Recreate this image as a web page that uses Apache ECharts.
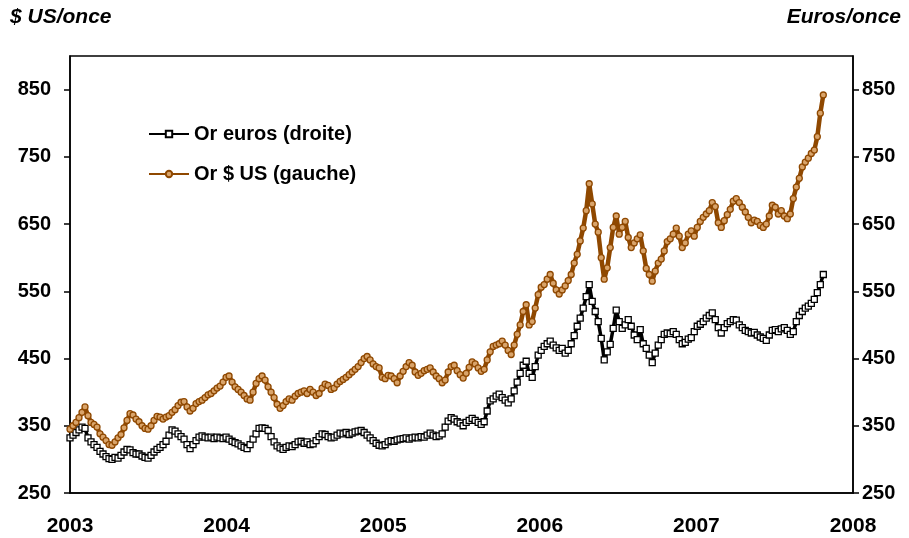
<!DOCTYPE html>
<html>
<head>
<meta charset="utf-8">
<script src="https://cdn.jsdelivr.net/npm/echarts@6/dist/echarts.min.js"></script>
<style>html,body{margin:0;padding:0;background:#fff}#c{width:909px;height:538px}</style>
</head>
<body>
<div id="c"></div>
<script>
// Weekly observations starting at the beginning of 2003
const startYear = 2003;
const weekStep = 7 / 365.25;
const yearLabels = ['2003', '2004', '2005', '2006', '2007', '2008'];
const yTicks = [250, 350, 450, 550, 650, 750, 850];

// Gold in US$ per ounce (left axis)
const goldUSD = [
345,350,355,362,370,378,365,355,352,348,338,333,328,322,321,326,332,337,347,358,
368,366,360,356,350,346,345,350,358,364,363,360,363,365,370,374,380,385,386,378,
372,376,383,386,388,392,396,398,402,406,409,415,422,424,415,408,404,400,395,390,
388,400,413,420,424,418,408,400,392,382,376,380,386,390,388,394,398,400,402,398,
404,400,395,398,406,412,410,404,406,412,416,419,422,426,430,434,438,444,450,453,
448,442,438,436,422,420,425,424,420,414,424,431,438,444,440,430,425,428,432,434,
436,430,424,420,414,418,430,438,440,432,426,421,428,437,445,442,436,431,434,448,
460,468,470,472,476,470,462,456,470,486,500,520,530,500,505,525,545,556,560,568,
575,562,552,546,552,558,566,575,592,605,625,644,670,710,680,650,638,600,568,585,
615,645,662,635,645,654,630,615,622,628,634,610,584,575,565,580,592,598,610,624,
628,635,644,632,615,622,635,640,632,645,654,660,665,670,682,676,652,645,655,664,
672,684,688,682,675,668,660,652,656,654,648,645,650,662,678,675,665,670,662,658,
665,688,705,718,735,742,748,755,760,780,815,842
];

// Gold in euros per ounce (right axis)
const goldEUR = [
332,336,340,344,348,346,332,326,322,318,312,308,304,301,300,303,302,306,311,315,
314,310,308,308,305,303,302,306,311,315,318,322,327,336,344,342,338,334,330,322,
316,322,328,333,335,333,332,333,331,333,332,331,333,330,327,325,323,320,318,316,
322,330,338,346,347,346,343,334,326,320,317,315,318,320,319,322,326,327,324,326,
322,323,328,334,338,337,334,332,333,336,339,338,340,337,339,341,342,343,340,336,
332,328,324,321,320,322,326,328,327,329,330,331,332,330,332,333,332,334,333,336,
339,336,334,335,338,348,357,362,360,356,354,350,355,358,361,358,355,352,356,372,
387,390,394,397,392,388,384,390,402,415,428,440,446,428,422,438,455,462,468,472,
476,470,466,462,465,458,462,472,484,498,510,525,542,560,535,520,505,480,448,460,
471,495,522,505,495,500,508,498,485,478,493,472,465,455,444,458,470,478,486,488,
487,490,486,478,472,474,479,481,490,498,501,505,510,514,518,508,496,488,496,502,
505,508,507,500,496,492,490,488,489,485,482,480,477,485,492,493,490,494,496,492,
486,490,505,514,520,525,528,532,538,548,560,575
];

const seriesNames = ['Or euros (droite)', 'Or $ US (gauche)'];
const unitLeft = '$ US/once';
const unitRight = 'Euros/once';

const toPairs = arr => arr.map((v, i) => [startYear + i * weekStep, v]);

const FONT = 'Liberation Sans, Arial, sans-serif';
const BROWN = '#8f4800';

function yAxisCfg(pos, margin) {
  return {
    type: 'value', position: pos, min: 250, max: 900, interval: 100,
    axisLine: { show: true, lineStyle: { color: '#000', width: 1.5 } },
    axisTick: { show: true, inside: false, length: 6, lineStyle: { color: '#000', width: 1.5 } },
    splitLine: { show: false },
    axisLabel: {
      showMaxLabel: false,
      margin: margin,
      color: '#000', fontFamily: FONT, fontWeight: 'bold', fontSize: 20,
      formatter: v => (yTicks.indexOf(v) >= 0 ? String(v) : '')
    }
  };
}

const chart = echarts.init(document.getElementById('c'), null, { renderer: 'canvas' });
chart.setOption({
  animation: false,
  backgroundColor: '#fff',
  grid: { left: 70, right: 56, top: 56, bottom: 45, show: true, borderColor: '#000', borderWidth: 1.5, backgroundColor: 'transparent' },
  legend: {
    orient: 'vertical', left: 143, top: 119, itemGap: 20,
    itemWidth: 40, itemHeight: 8,
    textStyle: { color: '#000', fontFamily: FONT, fontWeight: 'bold', fontSize: 20 },
    data: seriesNames
  },
  graphic: [
    { type: 'text', left: 10, top: 7, style: { text: unitLeft, font: 'italic bold 21px ' + FONT, fill: '#000' } },
    { type: 'text', right: 8, top: 7, style: { text: unitRight, font: 'italic bold 21px ' + FONT, fill: '#000' } }
  ],
  xAxis: {
    type: 'value', min: 2003, max: 2008, interval: 1,
    axisLine: { show: true, lineStyle: { color: '#000', width: 1.5 } },
    axisTick: { show: false },
    splitLine: { show: false },
    axisLabel: {
      margin: 23, color: '#000', fontFamily: FONT, fontWeight: 'bold', fontSize: 21,
      formatter: v => yearLabels[Math.round(v - 2003)] || ''
    }
  },
  yAxis: [ yAxisCfg('left', 19), yAxisCfg('right', 9) ],
  series: [
    {
      name: seriesNames[0], type: 'line', yAxisIndex: 1,
      data: toPairs(goldEUR),
      symbol: 'rect', symbolSize: 6,
      lineStyle: { color: '#000', width: 3.5 },
      itemStyle: { color: '#fff', borderColor: '#000', borderWidth: 1.3 },
      z: 2
    },
    {
      name: seriesNames[1], type: 'line', yAxisIndex: 0,
      data: toPairs(goldUSD),
      symbol: 'circle', symbolSize: 6,
      lineStyle: { color: BROWN, width: 4.5 },
      itemStyle: { color: '#d9a46a', borderColor: BROWN, borderWidth: 1.3 },
      z: 3
    }
  ]
});
</script>
</body>
</html>
